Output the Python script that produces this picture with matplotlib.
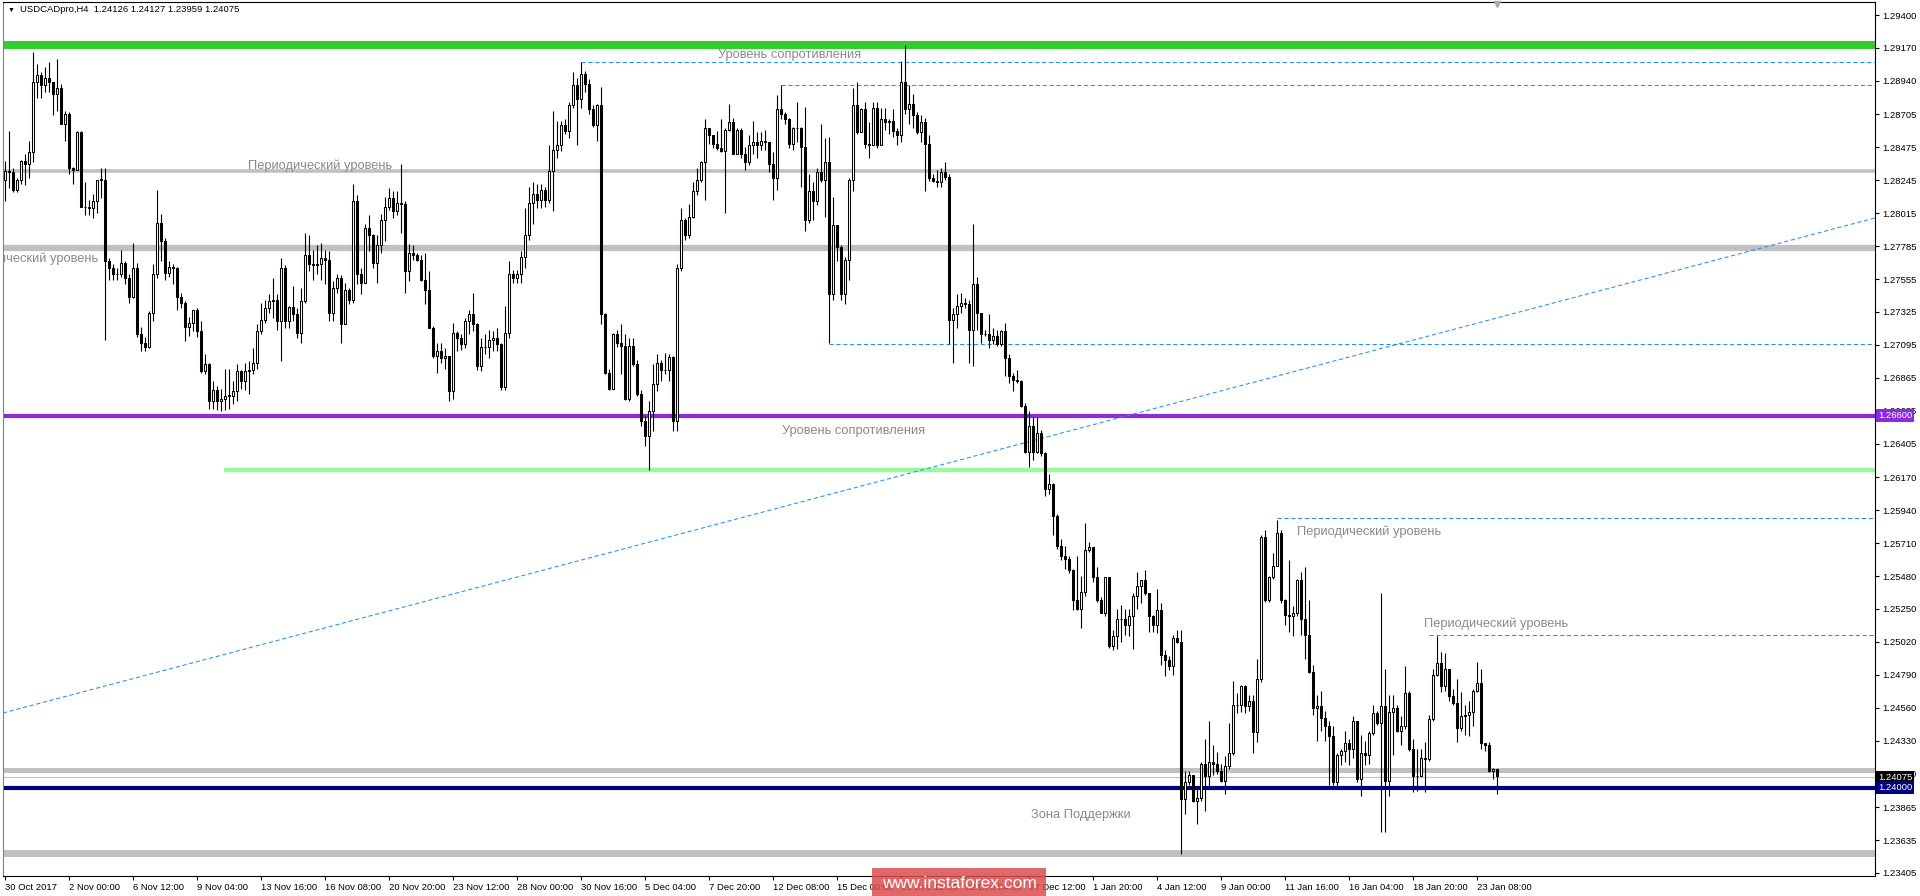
import matplotlib
matplotlib.use("Agg")
import matplotlib.pyplot as plt
import matplotlib.patches as mpatches
import numpy as np

# USDCAD H4 candles (price)
first_open = 1.2825
close = [
    1.2831, 1.2830, 1.2818, 1.2825, 1.2838, 1.2836, 1.2844, 1.2893, 1.2898, 1.2891,
    1.2896, 1.2893, 1.2885, 1.2889, 1.2864, 1.2871, 1.2833, 1.2832, 1.2858, 1.2806,
    1.2806, 1.2805, 1.2810, 1.2825, 1.2825, 1.2768, 1.2763, 1.2759, 1.2759, 1.2767,
    1.2756, 1.2743, 1.2763, 1.2717, 1.2711, 1.2708, 1.2732, 1.2759, 1.2795, 1.2782,
    1.2760, 1.2764, 1.2763, 1.2743, 1.2739, 1.2722, 1.2725, 1.2734, 1.2719,
    1.2691, 1.2696, 1.2670, 1.2678, 1.2670, 1.2672, 1.2674, 1.2674, 1.2677, 1.2691,
    1.2684, 1.2691, 1.2692, 1.2697, 1.2719, 1.2727, 1.2735, 1.2740, 1.2741, 1.2726,
    1.2763, 1.2726, 1.2736, 1.2731, 1.2718, 1.2740, 1.2772, 1.2766, 1.2765, 1.2766,
    1.2770, 1.2769, 1.2732, 1.2749, 1.2756, 1.2724, 1.2748, 1.2741, 1.2810, 1.2759,
    1.2753, 1.2791, 1.2786, 1.2767, 1.2779, 1.2797, 1.2806, 1.2812, 1.2803, 1.2809,
    1.2808, 1.2761, 1.2774, 1.2772, 1.2769, 1.2755, 1.2748, 1.2721, 1.2702, 1.2705,
    1.2700, 1.2702, 1.2677, 1.2718, 1.2714, 1.2710, 1.2726, 1.2731, 1.2724, 1.2695,
    1.2708, 1.2708, 1.2713, 1.2714, 1.2710,
    1.2680, 1.2718, 1.2759, 1.2756, 1.2759, 1.2771, 1.2786, 1.2809, 1.2815, 1.2811,
    1.2818, 1.2811, 1.2831, 1.2846, 1.2849, 1.2863, 1.2859, 1.2877, 1.2891, 1.2881,
    1.2899, 1.2892, 1.2874, 1.2863, 1.2877, 1.2731, 1.2690, 1.2679, 1.2717, 1.2711,
    1.2709, 1.2672, 1.2709, 1.2696, 1.2675,
    1.2656, 1.2646, 1.2663, 1.2682, 1.2697, 1.2692, 1.2692, 1.2701, 1.2656, 1.2763,
    1.2797, 1.2786, 1.2799, 1.2817, 1.2825, 1.2837, 1.2861, 1.2856, 1.2850, 1.2847,
    1.2845, 1.2860, 1.2865, 1.2843, 1.2860, 1.2843, 1.2837, 1.2849,
    1.2851, 1.2849, 1.2852, 1.2851, 1.2836, 1.2826, 1.2874, 1.2871, 1.2867, 1.2850,
    1.2861, 1.2861, 1.2848, 1.2797, 1.2817, 1.2810, 1.2830, 1.2825, 1.2837, 1.2745,
    1.2793, 1.2778, 1.2745, 1.2769, 1.2825, 1.2877, 1.2858, 1.2874, 1.2850, 1.2849,
    1.2875, 1.2849, 1.2867, 1.2865, 1.2866, 1.2859, 1.2856, 1.2893, 1.2874, 1.2878,
    1.2870, 1.2858, 1.2865, 1.2850, 1.2826, 1.2824, 1.2823, 1.2830, 1.2827, 1.2727,
    1.2731, 1.2737, 1.2739, 1.2738, 1.2720, 1.2752, 1.2732, 1.2717, 1.2717, 1.2713,
    1.2716, 1.2710, 1.2719, 1.2700, 1.2688, 1.2685, 1.2684, 1.2667, 1.2635, 1.2653,
    1.2635, 1.2648, 1.2634, 1.2609, 1.2612, 1.2590, 1.2569, 1.2562, 1.2560, 1.2552,
    1.2531, 1.2525, 1.2537, 1.2566, 1.2568, 1.2547, 1.2531, 1.2522, 1.2547, 1.2499,
    1.2506, 1.2518,
    1.2518, 1.2514, 1.2520, 1.2534, 1.2541, 1.2545, 1.2536, 1.2520, 1.2514, 1.2524,
    1.2493, 1.2489, 1.2485, 1.2505, 1.2502, 1.2392, 1.2404, 1.2409, 1.2391, 1.2393,
    1.2417, 1.2408, 1.2418, 1.2417, 1.2412, 1.2405, 1.2415, 1.2424, 1.2458, 1.2458,
    1.2471, 1.2457, 1.2461, 1.2439, 1.2476, 1.2575, 1.2531, 1.2547, 1.2555, 1.2578,
    1.2531, 1.2521, 1.2520, 1.2522, 1.2545, 1.2518, 1.2507, 1.2481, 1.2456, 1.2457,
    1.2449, 1.2443, 1.2436, 1.2404, 1.2423, 1.2426, 1.2431, 1.2427, 1.2447, 1.2406,
    1.2424, 1.2423, 1.2438, 1.2452, 1.2445, 1.2457, 1.2405, 1.2453, 1.2456, 1.2440,
    1.2443, 1.2466, 1.2427, 1.2408, 1.2408, 1.2421, 1.2420, 1.2448, 1.2479, 1.2487,
    1.2471, 1.2483, 1.2464, 1.2459, 1.2442, 1.2450, 1.2451, 1.2453, 1.2468, 1.2473,
    1.2431, 1.2430, 1.2412, 1.2413, 1.2408,
]
high = [
    1.2838, 1.2859, 1.2833, 1.2826, 1.2839, 1.2843, 1.2852, 1.2914, 1.2906, 1.2900,
    1.2904, 1.2907, 1.2893, 1.2909, 1.2892, 1.2873, 1.2872, 1.2834, 1.2859, 1.2859,
    1.2823, 1.2811, 1.2815, 1.2825, 1.2833, 1.2833, 1.2770, 1.2766, 1.2763, 1.2776,
    1.2768, 1.2759, 1.2781, 1.2767, 1.2722, 1.2715, 1.2733, 1.2766, 1.2818, 1.2801,
    1.2784, 1.2768, 1.2766, 1.2764, 1.2746, 1.2740, 1.2729, 1.2734, 1.2735,
    1.2726, 1.2703, 1.2697, 1.2684, 1.2681, 1.2679, 1.2693, 1.2693, 1.2684, 1.2696,
    1.2692, 1.2697, 1.2698, 1.2707, 1.2724, 1.2739, 1.2741, 1.2745, 1.2756, 1.2745,
    1.2770, 1.2765, 1.2737, 1.2751, 1.2735, 1.2749, 1.2788, 1.2786, 1.2776, 1.2779,
    1.2781, 1.2776, 1.2775, 1.2754, 1.2759, 1.2758, 1.2753, 1.2749, 1.2822, 1.2814,
    1.2763, 1.2794, 1.2800, 1.2787, 1.2786, 1.2801, 1.2813, 1.2819, 1.2817, 1.2817,
    1.2836, 1.2810, 1.2780, 1.2779, 1.2774, 1.2772, 1.2774, 1.2761, 1.2723, 1.2711,
    1.2711, 1.2707, 1.2699, 1.2725, 1.2719, 1.2717, 1.2728, 1.2734, 1.2746, 1.2725,
    1.2714, 1.2717, 1.2720, 1.2719, 1.2721,
    1.2711, 1.2737, 1.2768, 1.2762, 1.2762, 1.2775, 1.2805, 1.2820, 1.2823, 1.2822,
    1.2822, 1.2820, 1.2849, 1.2873, 1.2866, 1.2866, 1.2867, 1.2879, 1.2900, 1.2896,
    1.2907, 1.2901, 1.2895, 1.2877, 1.2878, 1.2890, 1.2732, 1.2693, 1.2718, 1.2720,
    1.2724, 1.2717, 1.2714, 1.2714, 1.2699,
    1.2678, 1.2660, 1.2670, 1.2696, 1.2703, 1.2699, 1.2704, 1.2703, 1.2702, 1.2766,
    1.2805, 1.2798, 1.2808, 1.2823, 1.2833, 1.2838, 1.2867, 1.2861, 1.2856, 1.2859,
    1.2867, 1.2861, 1.2878, 1.2868, 1.2861, 1.2861, 1.2848, 1.2856,
    1.2866, 1.2858, 1.2858, 1.2860, 1.2851, 1.2844, 1.2884, 1.2891, 1.2872, 1.2868,
    1.2862, 1.2879, 1.2862, 1.2876, 1.2829, 1.2823, 1.2833, 1.2864, 1.2854, 1.2855,
    1.2813, 1.2793, 1.2779, 1.2771, 1.2826, 1.2889, 1.2893, 1.2875, 1.2879, 1.2865,
    1.2879, 1.2879, 1.2875, 1.2875, 1.2867, 1.2874, 1.2861, 1.2908, 1.2919, 1.2891,
    1.2885, 1.2872, 1.2870, 1.2868, 1.2856, 1.2829, 1.2832, 1.2833, 1.2837, 1.2829,
    1.2735, 1.2745, 1.2746, 1.2742, 1.2741, 1.2794, 1.2757, 1.2732, 1.2720, 1.2731,
    1.2721, 1.2720, 1.2720, 1.2725, 1.2703, 1.2690, 1.2692, 1.2685, 1.2669, 1.2663,
    1.2659, 1.2659, 1.2650, 1.2635, 1.2619, 1.2613, 1.2591, 1.2574, 1.2569, 1.2562,
    1.2553, 1.2562, 1.2548, 1.2585, 1.2572, 1.2568, 1.2554, 1.2533, 1.2547, 1.2547,
    1.2510, 1.2525,
    1.2528, 1.2525, 1.2525, 1.2536, 1.2551, 1.2545, 1.2552, 1.2536, 1.2521, 1.2539,
    1.2529, 1.2496, 1.2492, 1.2507, 1.2510, 1.2510, 1.2412, 1.2412, 1.2409, 1.2401,
    1.2418, 1.2434, 1.2447, 1.2430, 1.2425, 1.2417, 1.2422, 1.2445, 1.2475, 1.2466,
    1.2472, 1.2472, 1.2465, 1.2465, 1.2490, 1.2577, 1.2580, 1.2548, 1.2564, 1.2587,
    1.2580, 1.2532, 1.2559, 1.2527, 1.2546, 1.2551, 1.2554, 1.2531, 1.2486, 1.2465,
    1.2468, 1.2454, 1.2447, 1.2443, 1.2424, 1.2427, 1.2440, 1.2434, 1.2450, 1.2447,
    1.2437, 1.2433, 1.2440, 1.2458, 1.2454, 1.2536, 1.2483, 1.2465, 1.2465, 1.2458,
    1.2450, 1.2485, 1.2468, 1.2434, 1.2427, 1.2427, 1.2432, 1.2451, 1.2483, 1.2506,
    1.2495, 1.2494, 1.2483, 1.2469, 1.2476, 1.2467, 1.2458, 1.2461, 1.2469, 1.2488,
    1.2483, 1.2431, 1.2432, 1.2414, 1.2413,
]
low = [
    1.2810, 1.2819, 1.2816, 1.2816, 1.2822, 1.2821, 1.2826, 1.2837, 1.2882, 1.2882,
    1.2886, 1.2886, 1.2870, 1.2873, 1.2864, 1.2852, 1.2829, 1.2822, 1.2833, 1.2806,
    1.2800, 1.2800, 1.2798, 1.2802, 1.2812, 1.2713, 1.2755, 1.2755, 1.2755, 1.2757,
    1.2752, 1.2739, 1.2742, 1.2715, 1.2705, 1.2705, 1.2707, 1.2726, 1.2756, 1.2768,
    1.2755, 1.2757, 1.2752, 1.2734, 1.2735, 1.2712, 1.2716, 1.2719, 1.2715,
    1.2690, 1.2689, 1.2665, 1.2665, 1.2664, 1.2663, 1.2664, 1.2665, 1.2668, 1.2670,
    1.2679, 1.2678, 1.2675, 1.2689, 1.2693, 1.2717, 1.2725, 1.2732, 1.2728, 1.2720,
    1.2698, 1.2721, 1.2721, 1.2726, 1.2714, 1.2711, 1.2739, 1.2761, 1.2755, 1.2759,
    1.2755, 1.2752, 1.2726, 1.2726, 1.2746, 1.2711, 1.2724, 1.2738, 1.2739, 1.2752,
    1.2745, 1.2760, 1.2775, 1.2763, 1.2753, 1.2774, 1.2782, 1.2804, 1.2798, 1.2800,
    1.2788, 1.2746, 1.2754, 1.2769, 1.2768, 1.2754, 1.2738, 1.2721, 1.2700, 1.2690,
    1.2697, 1.2693, 1.2670, 1.2672, 1.2705, 1.2706, 1.2707, 1.2717, 1.2719, 1.2692,
    1.2691, 1.2703, 1.2700, 1.2705, 1.2705,
    1.2678, 1.2678, 1.2714, 1.2753, 1.2753, 1.2753, 1.2763, 1.2783, 1.2794, 1.2805,
    1.2805, 1.2806, 1.2809, 1.2803, 1.2840, 1.2845, 1.2857, 1.2854, 1.2875, 1.2849,
    1.2875, 1.2886, 1.2871, 1.2862, 1.2852, 1.2724, 1.2689, 1.2678, 1.2689, 1.2708,
    1.2689, 1.2671, 1.2670, 1.2695, 1.2674,
    1.2653, 1.2639, 1.2622, 1.2649, 1.2677, 1.2684, 1.2689, 1.2684, 1.2649, 1.2649,
    1.2761, 1.2783, 1.2784, 1.2798, 1.2814, 1.2823, 1.2811, 1.2850, 1.2847, 1.2846,
    1.2844, 1.2802, 1.2859, 1.2843, 1.2843, 1.2840, 1.2832, 1.2835,
    1.2843, 1.2840, 1.2846, 1.2846, 1.2830, 1.2811, 1.2818, 1.2867, 1.2864, 1.2847,
    1.2846, 1.2851, 1.2820, 1.2789, 1.2795, 1.2797, 1.2807, 1.2823, 1.2799, 1.2711,
    1.2741, 1.2768, 1.2741, 1.2738, 1.2755, 1.2817, 1.2857, 1.2861, 1.2847, 1.2840,
    1.2849, 1.2847, 1.2849, 1.2860, 1.2857, 1.2855, 1.2849, 1.2851, 1.2871, 1.2864,
    1.2861, 1.2857, 1.2851, 1.2817, 1.2824, 1.2823, 1.2820, 1.2820, 1.2825, 1.2710,
    1.2697, 1.2721, 1.2732, 1.2735, 1.2697, 1.2695, 1.2720, 1.2711, 1.2716, 1.2707,
    1.2710, 1.2709, 1.2709, 1.2688, 1.2683, 1.2677, 1.2683, 1.2666, 1.2634, 1.2624,
    1.2629, 1.2634, 1.2632, 1.2604, 1.2605, 1.2577, 1.2567, 1.2559, 1.2553, 1.2550,
    1.2524, 1.2524, 1.2512, 1.2534, 1.2565, 1.2544, 1.2530, 1.2522, 1.2520, 1.2498,
    1.2496, 1.2497,
    1.2502, 1.2507, 1.2506, 1.2497, 1.2525, 1.2529, 1.2535, 1.2509, 1.2509, 1.2508,
    1.2486, 1.2478, 1.2482, 1.2479, 1.2501, 1.2354, 1.2382, 1.2402, 1.2390, 1.2375,
    1.2391, 1.2384, 1.2399, 1.2409, 1.2410, 1.2404, 1.2396, 1.2413, 1.2423, 1.2452,
    1.2453, 1.2452, 1.2454, 1.2424, 1.2432, 1.2474, 1.2530, 1.2530, 1.2546, 1.2555,
    1.2529, 1.2514, 1.2509, 1.2506, 1.2520, 1.2507, 1.2490, 1.2480, 1.2451, 1.2433,
    1.2440, 1.2433, 1.2402, 1.2402, 1.2399, 1.2416, 1.2418, 1.2416, 1.2421, 1.2404,
    1.2394, 1.2416, 1.2417, 1.2437, 1.2444, 1.2369, 1.2369, 1.2394, 1.2423, 1.2439,
    1.2430, 1.2441, 1.2426, 1.2397, 1.2398, 1.2408, 1.2397, 1.2419, 1.2447, 1.2478,
    1.2467, 1.2468, 1.2461, 1.2458, 1.2432, 1.2440, 1.2437, 1.2436, 1.2443, 1.2467,
    1.2427, 1.2426, 1.2411, 1.2406, 1.2396,
]

time_labels = [
    "30 Oct 2017", "2 Nov 00:00", "6 Nov 12:00", "9 Nov 04:00", "13 Nov 16:00",
    "16 Nov 08:00", "20 Nov 20:00", "23 Nov 12:00", "28 Nov 00:00", "30 Nov 16:00",
    "5 Dec 04:00", "7 Dec 20:00", "12 Dec 08:00", "15 Dec 00:00", "19 Dec 12:00",
    "22 Dec 04:00", "27 Dec 12:00", "1 Jan 20:00", "4 Jan 12:00", "9 Jan 00:00",
    "11 Jan 16:00", "16 Jan 04:00", "18 Jan 20:00", "23 Jan 08:00",
]
price_ticks = [
    1.29400, 1.29170, 1.28940, 1.28705, 1.28475, 1.28245, 1.28015, 1.27785,
    1.27555, 1.27325, 1.27095, 1.26865, 1.26635, 1.26405, 1.26170, 1.25940,
    1.25710, 1.25480, 1.25250, 1.25020, 1.24790, 1.24560, 1.24330, 1.24100,
    1.23865, 1.23635, 1.23405,
]
last_price = 1.24075

opens = [first_open] + close[:-1]
n = len(close)
x = np.arange(n)
o = np.array(opens)
c = np.array(close)
h = np.maximum(np.array(high), np.maximum(o, c))
l = np.minimum(np.array(low), np.minimum(o, c))

plt.rcParams['font.family'] = ['Liberation Sans', 'DejaVu Sans']

fig = plt.figure(figsize=(19.2, 8.96), dpi=100)
ax = fig.add_axes([3 / 1920, 20 / 896, 1872 / 1920, 874 / 896])
ax.set_xlim(-0.5, 467.5)
ax.set_ylim(1.23384, 1.29491)

# levels drawn under the candles
ax.axhline(1.29190, color='#32CD32', lw=5.8, zorder=1)
ax.axhline(1.28310, color='#C0C0C0', lw=2.6, zorder=1)
ax.axhline(1.27772, color='#C0C0C0', lw=4.5, zorder=1)
ax.axhline(1.26600, color='#8A2BE2', lw=3.0, zorder=1)
ax.hlines(1.26221, 54.75, 467.5, color='#98FB98', lw=3.2, zorder=1)
ax.axhline(1.24125, color='#C0C0C0', lw=3.6, zorder=1)
ax.axhline(last_price, color='#C0C0C0', lw=0.8, zorder=1)
ax.axhline(1.24000, color='#000080', lw=3.0, zorder=1)
ax.axhline(1.23545, color='#C0C0C0', lw=5.0, zorder=1)

dash = (0, (4, 2.6))
blue = '#1E90FF'
ax.hlines(1.29072, 144, 467.5, color=blue, lw=0.75, linestyles=[dash], zorder=1)
ax.hlines(1.28911, 194, 467.5, color=blue, lw=0.75, linestyles=[dash], zorder=1)
ax.hlines(1.27101, 206, 467.5, color=blue, lw=0.75, linestyles=[dash], zorder=1)
ax.hlines(1.25885, 318, 467.5, color=blue, lw=0.75, linestyles=[dash], zorder=1)
ax.hlines(1.25067, 356, 467.5, color=blue, lw=0.75, linestyles=[dash], zorder=1)
ax.plot([-0.5, 467.5], [1.24523, 1.27982], color=blue, lw=0.75, linestyle=dash, zorder=1)

# candles
ax.vlines(x, l, h, color='black', lw=0.8, zorder=3)
bottoms = np.minimum(o, c)
heights = np.maximum(np.abs(c - o), 0.000015)
colors = np.where(c >= o, 'white', 'black')
ax.bar(x, heights, bottom=bottoms, width=0.55, color=colors, edgecolor='black',
       linewidth=0.75, zorder=4)

# annotations
gray = '#8A8A8A'
fs = 9.3
ax.text(178.25, 1.29120, "Уровень сопротивления", color=gray, fontsize=fs, va='center', ha='left', zorder=5)
ax.text(60.75, 1.28345, "Периодический уровень", color=gray, fontsize=fs, va='center', ha='left', zorder=5)
ax.text(23.25, 1.27695, "Периодический уровень", color=gray, fontsize=fs, va='center', ha='right', zorder=5, clip_on=True)
ax.text(194.25, 1.26493, "Уровень сопротивления", color=gray, fontsize=fs, va='center', ha='left', zorder=5)
ax.text(323, 1.25788, "Периодический уровень", color=gray, fontsize=fs, va='center', ha='left', zorder=5)
ax.text(354.75, 1.25145, "Периодический уровень", color=gray, fontsize=fs, va='center', ha='left', zorder=5)
ax.text(256.5, 1.23810, "Зона Поддержки", color=gray, fontsize=fs, va='center', ha='left', zorder=5)

# axes styling
for s in ax.spines.values():
    s.set_color('black')
    s.set_linewidth(0.8)
ax.spines['left'].set_color('#808080')
ax.yaxis.tick_right()
ax.set_yticks(price_ticks)
ax.set_yticklabels([f"{p:.5f}" for p in price_ticks])
ax.tick_params(axis='y', direction='out', length=3, width=0.8, pad=2, labelsize=6.8, colors='black')
ax.set_xticks(np.arange(len(time_labels)) * 16)
ax.set_xticklabels(time_labels)
ax.tick_params(axis='x', direction='out', length=3, width=0.8, pad=2, labelsize=6.8)
for lbl in ax.get_xticklabels():
    lbl.set_ha('left')

# price tags on the right scale
ytr = ax.get_yaxis_transform()
for price, fc in [(1.26600, '#8A2BE2'), (last_price, 'black'), (1.24000, '#000080')]:
    ax.text(1.0015, price, f"{price:.5f}", transform=ytr, color='white', fontsize=6.8,
            va='center', ha='left', clip_on=False, zorder=10,
            bbox=dict(boxstyle='square,pad=0.2', facecolor=fc, edgecolor='none'))

# header and shift marker
fig.text(8 / 1920, 1 - 10 / 896, "▼", fontsize=5, va='center', ha='left', color='black')
fig.text(20 / 1920, 1 - 10 / 896, "USDCADpro,H4  1.24126 1.24127 1.23959 1.24075",
         fontsize=6.8, va='center', ha='left', color='black')
ax.plot([373], [1.29475], marker='v', ms=4, color='#A8A8A8', clip_on=False, zorder=6)

# watermark
fig.patches.append(mpatches.Rectangle((872 / 1920, 0), 174 / 1920, 28 / 896, transform=fig.transFigure,
                                      facecolor=(0.86, 0.3, 0.3, 0.85), edgecolor='none', zorder=20))
fig.text(959 / 1920, 13 / 896, "www.instaforex.com", color='white', fontsize=12.5,
         ha='center', va='center', zorder=21)

fig.savefig("out.png", dpi=100, facecolor='white')
